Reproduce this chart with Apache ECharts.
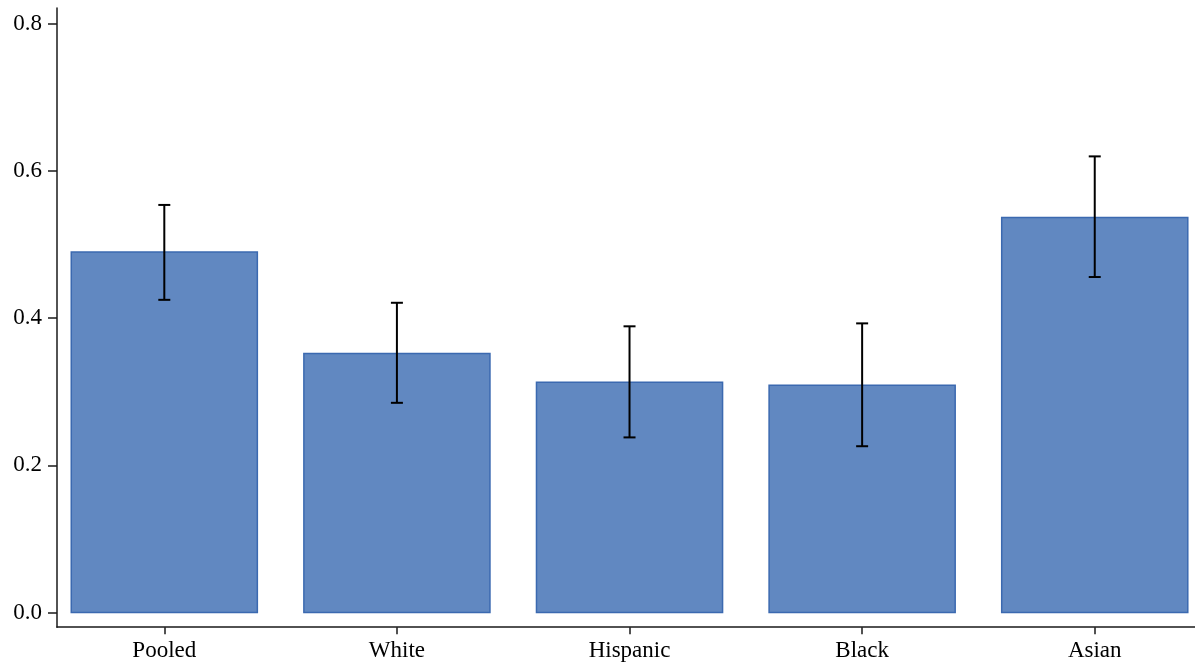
<!DOCTYPE html>
<html>
<head>
<meta charset="utf-8">
<script src="https://cdn.jsdelivr.net/npm/echarts@6/dist/echarts.min.js"></script>
<style>
  html, body { margin: 0; padding: 0; background: #ffffff; }
  #chart { width: 1195px; height: 664px; }
</style>
</head>
<body>
<div id="chart"></div>
<script>
// Group labels along the x axis
const categories = ['Pooled', 'White', 'Hispanic', 'Black', 'Asian'];
// Point estimates (bar heights)
const estimates = [0.490, 0.352, 0.313, 0.309, 0.537];
// Confidence interval bounds
const lowerCI = [0.425, 0.285, 0.238, 0.226, 0.456];
const upperCI = [0.554, 0.421, 0.389, 0.393, 0.620];
// Y axis tick values
const yTicks = [0, 0.2, 0.4, 0.6, 0.8];

const FONT = '"Liberation Serif", "Times New Roman", serif';
const BAR_HALF = 0.4;   // half of bar width, in category units
const CAP_PX = 6;       // half width of error-bar caps

const barData = categories.map((c, i) => [i, estimates[i]]);
const errData = categories.map((c, i) => [i, lowerCI[i], upperCI[i]]);

const chart = echarts.init(document.getElementById('chart'), null, { renderer: 'canvas' });

const axisStroke = { color: '#1a1a1a', width: 1.5 };

chart.setOption({
  backgroundColor: '#ffffff',
  animation: false,
  grid: { left: 57, right: 0, top: 8, bottom: 36.8, containLabel: false },
  xAxis: {
    type: 'value',
    min: -0.4613,
    max: 4.431,
    splitLine: { show: false },
    axisLine: { show: true, onZero: false, lineStyle: axisStroke },
    axisTick: { show: true, length: 7, customValues: categories.map((c, i) => i),
                lineStyle: axisStroke },
    axisLabel: {
      customValues: categories.map((c, i) => i),
      formatter: v => categories[Math.round(v)],
      color: '#000', fontFamily: FONT, fontSize: 23, margin: 12
    }
  },
  yAxis: {
    type: 'value',
    min: -0.02,
    max: 0.8217,
    splitLine: { show: false },
    axisLine: { show: true, onZero: false, lineStyle: axisStroke },
    axisTick: { show: true, length: 9, customValues: yTicks,
                lineStyle: axisStroke },
    axisLabel: {
      customValues: yTicks,
      formatter: v => v.toFixed(1),
      color: '#000', fontFamily: FONT, fontSize: 23, margin: 15
    }
  },
  series: [
    {
      type: 'custom',
      name: 'estimate',
      data: barData,
      renderItem: function (params, api) {
        const x = api.value(0), v = api.value(1);
        const p1 = api.coord([x - BAR_HALF, v]);
        const p2 = api.coord([x + BAR_HALF, 0]);
        return {
          type: 'rect',
          shape: { x: p1[0], y: p1[1], width: p2[0] - p1[0], height: p2[1] - p1[1] },
          style: { fill: '#6188c1', stroke: '#3b69b0', lineWidth: 1.5 }
        };
      },
      z: 2
    },
    {
      type: 'custom',
      name: 'ci',
      data: errData,
      renderItem: function (params, api) {
        const x = api.value(0);
        const lo = api.coord([x, api.value(1)]);
        const hi = api.coord([x, api.value(2)]);
        const st = { stroke: '#000', lineWidth: 2 };
        return {
          type: 'group',
          children: [
            { type: 'line', shape: { x1: lo[0], y1: lo[1], x2: hi[0], y2: hi[1] }, style: st },
            { type: 'line', shape: { x1: hi[0] - CAP_PX, y1: hi[1], x2: hi[0] + CAP_PX, y2: hi[1] }, style: st },
            { type: 'line', shape: { x1: lo[0] - CAP_PX, y1: lo[1], x2: lo[0] + CAP_PX, y2: lo[1] }, style: st }
          ]
        };
      },
      z: 3
    }
  ]
});
</script>
</body>
</html>
